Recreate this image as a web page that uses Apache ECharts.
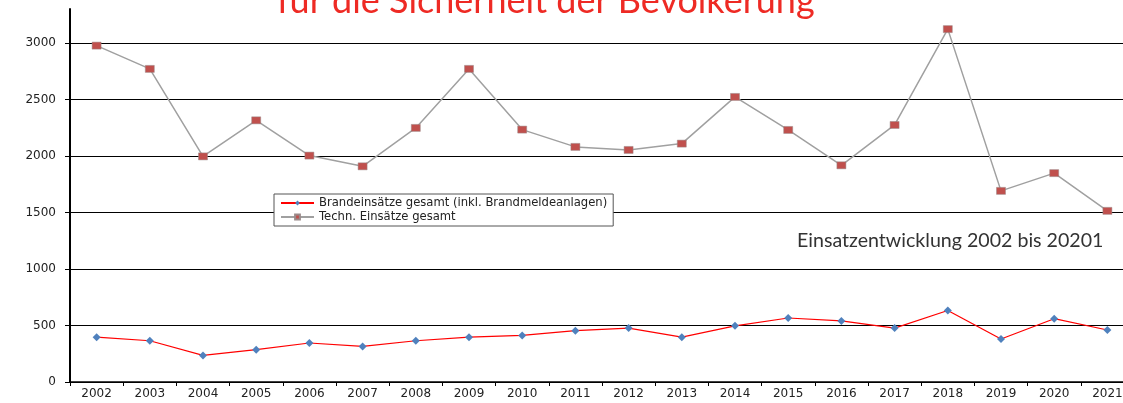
<!DOCTYPE html>
<html lang="de">
<head>
<meta charset="utf-8" />
<title>Einsatzentwicklung</title>
<script src="https://cdn.jsdelivr.net/npm/echarts@6/dist/echarts.min.js"></script>
<style>
  html, body { margin: 0; padding: 0; background: #fff; overflow: hidden; }
  /* the plot runs a little past the right edge, like the cropped original */
  #chart { width: 1134px; height: 403px; }
</style>
</head>
<body>
<div id="chart"></div>
<script>
  // Jahre (x-Achse)
  const years = ['2002', '2003', '2004', '2005', '2006', '2007', '2008', '2009', '2010', '2011',
                 '2012', '2013', '2014', '2015', '2016', '2017', '2018', '2019', '2020', '2021'];
  // Brandeinsätze gesamt (inkl. Brandmeldeanlagen)
  const brand = [397, 365, 235, 286, 345, 315, 365, 397, 412, 454,
                 477, 397, 497, 566, 540, 477, 633, 380, 560, 460];
  // Techn. Einsätze gesamt
  const techn = [2976, 2770, 1996, 2315, 2003, 1908, 2248, 2770, 2233, 2080,
                 2053, 2109, 2522, 2230, 1917, 2274, 3122, 1691, 1848, 1514];

  const seriesNames = ['Brandeinsätze gesamt (inkl. Brandmeldeanlagen)', 'Techn. Einsätze gesamt'];

  const chart = echarts.init(document.getElementById('chart'));

  chart.setOption({
    animation: false,
    backgroundColor: '#fff',
    title: [
      {
        text: 'für die Sicherheit der Bevölkerung',
        left: 277,
        top: -17,
        padding: 0,
        textStyle: { fontFamily: 'Lato', fontSize: 36, fontWeight: 'normal', color: '#ee2a24' }
      },
      {
        text: 'Einsatzentwicklung 2002 bis 20201',
        left: 797,
        top: 231,
        padding: 0,
        textStyle: { fontFamily: 'Lato', fontSize: 19.6, fontWeight: 'normal', color: '#333' }
      }
    ],
    legend: {
      orient: 'vertical',
      left: 274,
      top: 194,
      padding: [3, 6, 3, 6],
      itemGap: 2,
      itemWidth: 33,
      itemHeight: 6,
      backgroundColor: '#fff',
      borderColor: '#555',
      borderWidth: 1,
      borderRadius: 0,
      data: seriesNames,
      textStyle: { fontFamily: 'DejaVu Sans', fontSize: 11.6, color: '#222' }
    },
    grid: { left: 70, top: 9, right: 0, bottom: 21, containLabel: false },
    xAxis: {
      type: 'category',
      data: years,
      boundaryGap: true,
      axisLine: { lineStyle: { color: '#000', width: 1.5 } },
      axisTick: { show: true, alignWithLabel: false, length: 4, lineStyle: { color: '#000' } },
      axisLabel: { fontFamily: 'DejaVu Sans', fontSize: 12, color: '#222', margin: 6, interval: 0 },
      splitLine: { show: false }
    },
    yAxis: {
      type: 'value',
      min: 0,
      max: 3300,
      interval: 500,
      axisLine: { show: true, lineStyle: { color: '#000', width: 2 } },
      axisTick: { show: true, length: 5, lineStyle: { color: '#000' } },
      axisLabel: {
        fontFamily: 'DejaVu Sans', fontSize: 12, color: '#222', margin: 14,
        showMaxLabel: false,
        formatter: (v) => String(v)
      },
      splitLine: {
        show: true,
        lineStyle: {
          width: 1,
          color: ['#000', '#000', '#000', '#000', '#000', '#000', '#000', 'rgba(0,0,0,0)']
        }
      }
    },
    series: [
      {
        name: seriesNames[0],
        type: 'line',
        data: brand,
        symbol: 'diamond',
        symbolSize: 8,
        lineStyle: { color: '#ff0000', width: 1.2 },
        itemStyle: { color: '#4f81bd' },
        z: 3
      },
      {
        name: seriesNames[1],
        type: 'line',
        data: techn,
        symbol: 'rect',
        symbolSize: [9, 7],
        lineStyle: { color: '#a0a0a0', width: 1.5 },
        itemStyle: { color: '#c0504d', borderColor: '#9a8a8a', borderWidth: 0.5 },
        z: 3
      }
    ]
  });
</script>
</body>
</html>
